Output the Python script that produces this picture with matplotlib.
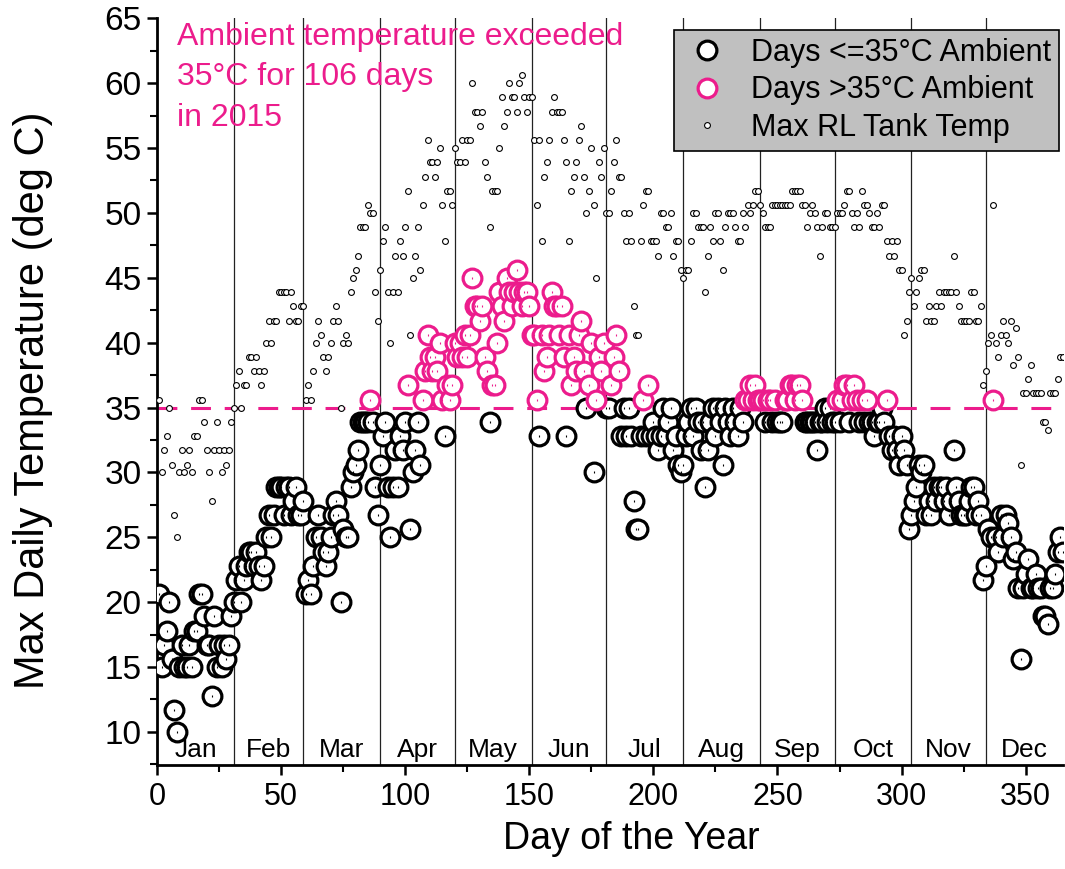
import numpy as np
import matplotlib
matplotlib.use('Agg')
import matplotlib.pyplot as plt
from matplotlib.lines import Line2D

plt.rcParams['font.family'] = ['Liberation Sans', 'DejaVu Sans']

PINK = '#EC1C8C'

# max daily ambient temperature (deg C), one list per month
amb_jan = [20.6, 15.0, 16.7, 17.8, 20.0, 15.6, 11.7, 10.0, 15.0, 16.7, 15.0, 15.0, 16.7, 15.0, 17.8, 17.8,
           20.6, 20.6, 18.9, 16.7, 16.7, 12.8, 18.9, 15.0, 16.7, 15.0, 16.7, 15.6, 16.7, 18.9, 20.0]
amb_feb = [21.7, 22.8, 20.0, 21.7, 22.8, 23.9, 23.9, 22.8, 23.9, 22.8, 21.7, 22.8, 25.0, 26.7, 25.0, 26.7,
           28.9, 28.9, 28.9, 26.7, 28.9, 28.9, 26.7, 27.8, 28.9, 26.7, 26.7, 27.8]
amb_mar = [20.6, 21.7, 20.6, 22.8, 25.0, 26.7, 25.0, 23.9, 22.8, 23.9, 25.0, 26.7, 27.8, 26.7, 20.0, 25.6,
           25.0, 25.0, 28.9, 30.0, 30.6, 31.7, 33.9, 33.9, 33.9, 33.9, 35.6, 33.9, 28.9, 26.7, 30.6]
amb_apr = [32.8, 33.9, 28.9, 25.0, 28.9, 31.7, 28.9, 32.8, 31.7, 33.9, 36.7, 25.6, 30.0, 31.7, 33.9, 30.6,
           35.6, 37.8, 40.6, 38.9, 37.8, 38.9, 37.8, 40.0, 35.6, 32.8, 36.7, 35.6, 36.7, 40.0]
amb_may = [38.9, 40.0, 38.9, 40.6, 38.9, 40.6, 45.0, 42.8, 42.8, 41.7, 42.8, 38.9, 37.8, 33.9, 36.7, 36.7,
           40.0, 43.9, 42.8, 41.7, 45.0, 43.9, 42.8, 43.9, 45.6, 43.9, 42.8, 43.9, 43.9, 42.8, 40.6]
amb_jun = [40.6, 35.6, 32.8, 40.6, 37.8, 38.9, 40.6, 43.9, 42.8, 42.8, 40.6, 42.8, 38.9, 32.8, 40.6, 36.7,
           38.9, 37.8, 40.6, 41.7, 37.8, 35.0, 36.7, 40.0, 30.0, 35.6, 38.9, 37.8, 40.0, 35.0]
amb_jul = [35.0, 36.7, 38.9, 40.6, 37.8, 32.8, 35.0, 32.8, 35.0, 32.8, 27.8, 25.6, 25.6, 32.8, 35.6, 32.8,
           36.7, 32.8, 33.9, 32.8, 31.7, 32.8, 35.0, 32.8, 33.9, 35.0, 31.7, 32.8, 30.6, 30.0, 30.6]
amb_aug = [32.8, 33.9, 35.0, 32.8, 35.0, 33.9, 31.7, 33.9, 28.9, 31.7, 33.9, 35.0, 32.8, 35.0, 33.9, 30.6,
           35.0, 33.9, 32.8, 35.0, 33.9, 32.8, 35.0, 33.9, 35.6, 35.6, 36.7, 35.6, 36.7, 35.6, 35.6]
amb_sep = [35.6, 33.9, 35.6, 35.6, 33.9, 35.6, 33.9, 33.9, 33.9, 35.6, 35.6, 36.7, 36.7, 35.6, 36.7, 36.7,
           35.6, 33.9, 33.9, 33.9, 33.9, 33.9, 31.7, 33.9, 33.9, 35.0, 33.9, 35.0, 33.9, 33.9]
amb_oct = [35.6, 33.9, 35.6, 36.7, 36.7, 33.9, 35.6, 36.7, 35.6, 33.9, 35.6, 33.9, 35.6, 33.9, 33.9, 32.8,
           33.9, 33.9, 35.0, 33.9, 35.6, 32.8, 31.7, 32.8, 31.7, 30.6, 32.8, 31.7, 30.6, 25.6, 26.7]
amb_nov = [27.8, 28.9, 30.6, 30.0, 30.6, 26.7, 27.8, 26.7, 28.9, 27.8, 28.9, 28.9, 27.8, 28.9, 26.7, 27.8,
           31.7, 28.9, 27.8, 26.7, 26.7, 26.7, 27.8, 28.9, 28.9, 26.7, 27.8, 26.7, 21.7, 22.8]
amb_dec = [25.6, 25.0, 35.6, 25.0, 23.9, 26.7, 25.0, 26.7, 26.1, 25.0, 23.3, 23.9, 21.1, 15.6, 21.1, 22.2,
           23.3, 21.1, 21.1, 22.2, 21.1, 21.1, 18.9, 18.9, 18.3, 21.1, 21.1, 22.2, 23.9, 25.0, 23.9]

# max RL tank temperature (deg C)
tank_jan = [35.6, 30.0, 31.7, 32.8, 35.0, 30.6, 26.7, 25.0, 30.0, 31.7, 30.0, 30.6, 31.7, 30.0, 32.8, 32.8,
            35.6, 35.6, 33.9, 31.7, 30.0, 27.8, 31.7, 33.9, 31.7, 30.0, 31.7, 30.6, 31.7, 33.9, 35.0]
tank_feb = [36.7, 37.8, 35.0, 36.7, 36.7, 38.9, 38.9, 37.8, 38.9, 37.8, 36.7, 37.8, 40.0, 41.7, 40.0, 41.7,
            41.7, 43.9, 43.9, 43.9, 43.9, 41.7, 43.9, 42.8, 41.7, 41.7, 42.8, 42.8]
tank_mar = [35.6, 36.7, 35.6, 37.8, 40.0, 41.7, 40.6, 38.9, 37.8, 38.9, 40.0, 41.7, 42.8, 41.7, 35.0, 40.0,
            40.6, 40.0, 43.9, 45.0, 45.6, 46.7, 48.9, 48.9, 48.9, 50.6, 50.0, 50.0, 43.9, 41.7, 45.6]
tank_apr = [47.8, 48.9, 43.9, 40.0, 43.9, 46.7, 43.9, 47.8, 46.7, 48.9, 51.7, 40.6, 45.0, 46.7, 48.9, 45.6,
            50.6, 52.8, 55.6, 53.9, 53.9, 52.8, 53.9, 55.0, 50.6, 47.8, 51.7, 51.7, 50.6, 55.0]
tank_may = [53.9, 53.9, 55.6, 53.9, 55.6, 55.6, 60.0, 57.8, 57.8, 56.7, 57.8, 53.9, 52.8, 48.9, 51.7, 51.7,
            51.7, 55.0, 58.9, 56.7, 57.8, 60.0, 58.9, 58.9, 57.8, 60.0, 60.6, 58.9, 57.8, 58.9, 58.9]
tank_jun = [55.6, 50.6, 55.6, 47.8, 52.8, 53.9, 55.6, 57.8, 58.9, 57.8, 57.8, 57.8, 55.6, 53.9, 47.8, 51.7,
            52.8, 53.9, 55.6, 56.7, 52.8, 50.0, 51.7, 55.0, 50.6, 45.0, 53.9, 52.8, 55.0, 50.0]
tank_jul = [50.0, 51.7, 53.9, 55.6, 52.8, 52.8, 50.0, 47.8, 50.0, 47.8, 42.8, 40.6, 40.6, 47.8, 50.6, 51.7,
            51.7, 47.8, 47.8, 47.8, 46.7, 50.0, 50.0, 48.9, 48.9, 50.0, 46.7, 47.8, 47.8, 45.6, 45.0]
tank_aug = [45.6, 45.6, 47.8, 50.0, 50.0, 48.9, 48.9, 48.9, 43.9, 46.7, 48.9, 47.8, 50.0, 50.0, 47.8, 45.6,
            48.9, 50.0, 50.0, 50.0, 48.9, 47.8, 47.8, 50.0, 48.9, 50.6, 50.0, 50.6, 51.7, 51.7, 50.6]
tank_sep = [50.0, 48.9, 48.9, 48.9, 50.6, 50.6, 50.6, 50.6, 50.6, 50.6, 50.6, 50.6, 51.7, 51.7, 51.7, 51.7,
            50.6, 50.6, 48.9, 50.0, 50.6, 50.0, 48.9, 46.7, 48.9, 50.0, 50.0, 48.9, 48.9, 48.9]
tank_oct = [50.0, 50.0, 50.0, 50.6, 51.7, 51.7, 50.0, 48.9, 50.0, 48.9, 51.7, 50.6, 50.6, 50.0, 48.9, 48.9,
            50.0, 48.9, 50.6, 50.6, 47.8, 46.7, 47.8, 46.7, 47.8, 45.6, 45.6, 40.6, 41.7, 43.9, 45.0]
tank_nov = [42.8, 43.9, 45.0, 45.6, 45.6, 41.7, 42.8, 41.7, 41.7, 42.8, 43.9, 42.8, 43.9, 43.9, 43.9, 43.9,
            46.7, 43.9, 42.8, 41.7, 41.7, 41.7, 41.7, 43.9, 43.9, 41.7, 41.7, 42.8, 36.7, 37.8]
tank_dec = [40.0, 40.6, 50.6, 40.0, 38.9, 40.6, 41.7, 40.6, 40.0, 41.7, 38.3, 41.1, 38.9, 30.6, 36.1, 36.1,
            37.2, 38.3, 36.1, 36.1, 36.1, 36.1, 33.9, 33.9, 33.3, 36.1, 36.1, 36.1, 37.2, 38.9, 38.9]

months = ['Jan', 'Feb', 'Mar', 'Apr', 'May', 'Jun', 'Jul', 'Aug', 'Sep', 'Oct', 'Nov', 'Dec']
month_days = [31, 28, 31, 30, 31, 30, 31, 31, 30, 31, 30, 31]
threshold = 35.0
year = 2015

ambient = np.array(amb_jan + amb_feb + amb_mar + amb_apr + amb_may + amb_jun +
                   amb_jul + amb_aug + amb_sep + amb_oct + amb_nov + amb_dec)
tank = np.array(tank_jan + tank_feb + tank_mar + tank_apr + tank_may + tank_jun +
                tank_jul + tank_aug + tank_sep + tank_oct + tank_nov + tank_dec)
day = np.arange(1, len(ambient) + 1)
hot = ambient > threshold
n_hot = int(hot.sum())

fig = plt.figure(figsize=(10.65, 8.69), dpi=100)
ax = fig.add_axes([0.1474, 0.1197, 0.8506, 0.8593])

# month dividers and labels
edges = np.cumsum([0] + month_days)
for e in edges[1:-1]:
    ax.axvline(e, color='#222222', lw=0.9, zorder=1)
for i, m in enumerate(months):
    ax.text((edges[i] + edges[i + 1]) / 2, 8.05, m, ha='center', va='baseline', fontsize=19)

ax.axhline(threshold, color=PINK, lw=2.2, dashes=(6.5, 4.5), zorder=2)

big = dict(ls='none', marker='o', ms=13.5, mew=2.3, mfc='white')
ax.plot(day, tank, ls='none', marker='o', ms=4.2, mew=0.8, mfc='white', mec='black', zorder=3)
ax.plot(day[~hot], ambient[~hot], mec='black', zorder=4, **big)
ax.plot(day[~hot], ambient[~hot], ls='none', marker='|', ms=2, mew=0.8, color='black', zorder=4.1)
ax.plot(day[hot], ambient[hot], mec=PINK, zorder=5, **big)
ax.plot(day[hot], ambient[hot], ls='none', marker='|', ms=2, mew=0.8, color=PINK, zorder=5.1)

ax.text(0.022, 0.995, 'Ambient temperature exceeded\n%d°C for %d days\nin %d' % (threshold, n_hot, year),
        transform=ax.transAxes, ha='left', va='top', color=PINK, fontsize=23, linespacing=1.45)

ax.set_xlim(0, 365)
ax.set_ylim(7.45, 65)
ax.set_xticks(np.arange(0, 351, 50))
ax.set_xticks(np.arange(25, 365, 50), minor=True)
ax.set_yticks(np.arange(10, 66, 5))
ax.set_yticks(np.arange(7.5, 65, 5), minor=True)
ax.tick_params(axis='both', which='major', direction='out', length=7, width=1.8)
ax.tick_params(axis='both', which='minor', direction='out', length=5, width=1.5)
ax.tick_params(axis='x', labelsize=22, pad=5)
ax.tick_params(axis='y', labelsize=24, pad=4)
for s in ['top', 'right']:
    ax.spines[s].set_visible(False)
for s in ['left', 'bottom']:
    ax.spines[s].set_linewidth(2)

ax.set_xlabel('Day of the Year', fontsize=27)
ax.xaxis.set_label_coords(0.524, -0.075)
ax.set_ylabel('Max Daily Temperature (deg C)', fontsize=30)
ax.yaxis.set_label_coords(-0.115, 0.489)

handles = [
    Line2D([], [], mec='black', **big),
    Line2D([], [], mec=PINK, **big),
    Line2D([], [], ls='none', marker='o', ms=4.2, mew=0.8, mfc='white', mec='black'),
]
labels = ['Days <=35°C Ambient', 'Days >35°C Ambient', 'Max RL Tank Temp']
leg = ax.legend(handles, labels, loc='upper right', bbox_to_anchor=(0.996, 0.984), borderaxespad=0,
                fontsize=22, facecolor='#C0C0C0', edgecolor='black', framealpha=1, fancybox=False,
                labelspacing=0.25, handletextpad=0.6, borderpad=0.25, handlelength=1.7)
leg.get_frame().set_linewidth(1.2)
leg.set_zorder(10)

fig.savefig('out.png', dpi=100)
